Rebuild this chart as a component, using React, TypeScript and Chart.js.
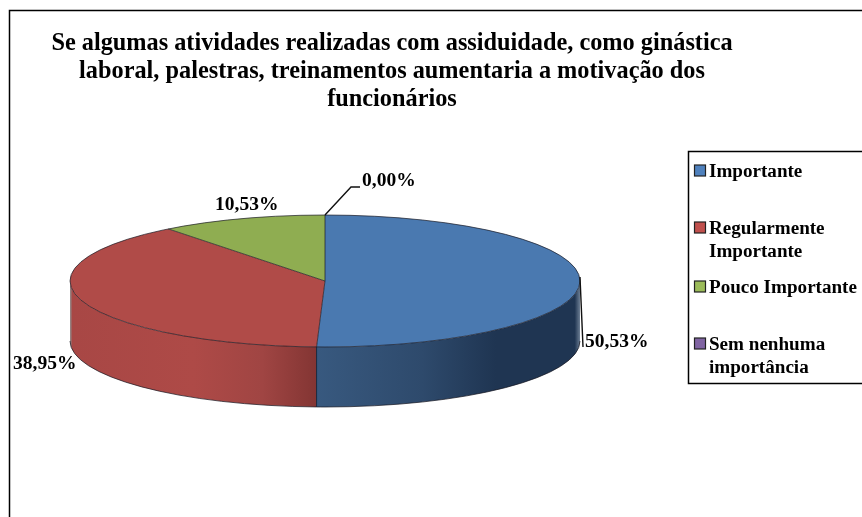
import React, { useEffect, useRef } from "react";
import { Chart, registerables } from "chart.js";

Chart.register(...registerables);

const categories = ["Importante", "Regularmente Importante", "Pouco Importante", "Sem nenhuma importância"];
const values = [50.53, 38.95, 10.53, 0.0];
const valueLabels = ["50,53%", "38,95%", "10,53%", "0,00%"];
const topColors = ["#4a79b0", "#b04b48", "#8fad51", "#7d60a0"];
const swatchColors = ["#4f81bd", "#c0504d", "#9bbb59", "#8064a2"];
const titleLines = [
  "Se algumas atividades realizadas com assiduidade, como ginástica",
  "laboral, palestras, treinamentos aumentaria a motivação dos",
  "funcionários",
];
const legendLines = [["Importante"], ["Regularmente", "Importante"], ["Pouco Importante"], ["Sem nenhuma", "importância"]];

const SERIF = '"Liberation Serif", serif';
const TILT = 66 / 255;
const CY = 281;
const DEPTH = 60;

const sideStops: Record<number, [number, string][]> = {
  0: [[0, "#38597f"], [0.4, "#2e4a6c"], [0.68, "#1f3552"], [0.98, "#1f3552"], [1, "#6d7f95"]],
  1: [[0, "#8f8f8f"], [0.01, "#a84745"], [0.5, "#ae4a47"], [0.78, "#a04543"], [1, "#833533"]],
  2: [[0, "#6e8a3d"], [1, "#6e8a3d"]],
  3: [[0, "#5f4880"], [1, "#5f4880"]],
};

const pie3d = {
  id: "pie3d",
  beforeDatasetsDraw(chart: any) {
    const { ctx } = chart;
    const arcs = chart.getDatasetMeta(0).data;
    const base = arcs[0];
    const cx = base.x;
    const rx = base.outerRadius;
    const ry = rx * TILT;
    arcs.forEach((arc: any, i: number) => {
      const a = Math.max(arc.startAngle, 0);
      const b = Math.min(arc.endAngle, Math.PI);
      if (b <= a) return;
      const x0 = cx + rx * Math.cos(b);
      const x1 = cx + rx * Math.cos(a);
      const g = ctx.createLinearGradient(x0, 0, x1, 0);
      sideStops[i].forEach(([o, c]) => g.addColorStop(o, c));
      ctx.beginPath();
      ctx.ellipse(cx, CY, rx, ry, 0, a, b);
      ctx.ellipse(cx, CY + DEPTH, rx, ry, 0, b, a, true);
      ctx.closePath();
      ctx.fillStyle = g;
      ctx.fill();
      ctx.strokeStyle = "rgba(20,20,30,0.7)";
      ctx.lineWidth = 1;
      ctx.beginPath();
      ctx.ellipse(cx, CY + DEPTH, rx, ry, 0, a, b);
      ctx.stroke();
    });
    const split = arcs[0].endAngle;
    ctx.strokeStyle = "#16263c";
    ctx.lineWidth = 1;
    ctx.beginPath();
    ctx.moveTo(cx + rx * Math.cos(split), CY + ry * Math.sin(split));
    ctx.lineTo(cx + rx * Math.cos(split), CY + DEPTH + ry * Math.sin(split));
    ctx.stroke();
    ctx.save();
    ctx.translate(0, CY);
    ctx.scale(1, TILT);
    ctx.translate(0, -base.y);
  },
  afterDatasetsDraw(chart: any) {
    const { ctx } = chart;
    ctx.restore();
    const arcs = chart.getDatasetMeta(0).data;
    const cx = arcs[0].x;
    const rx = arcs[0].outerRadius;
    const ry = rx * TILT;
    ctx.strokeStyle = "rgba(25,25,35,0.7)";
    ctx.lineWidth = 1;
    ctx.beginPath();
    ctx.ellipse(cx, CY, rx, ry, 0, 0, Math.PI * 2);
    ctx.stroke();
    arcs.slice(0, 3).forEach((arc: any) => {
      ctx.beginPath();
      ctx.moveTo(cx, CY);
      ctx.lineTo(cx + rx * Math.cos(arc.startAngle), CY + ry * Math.sin(arc.startAngle));
      ctx.stroke();
    });
  },
  afterDraw(chart: any) {
    const { ctx, width, height } = chart;
    ctx.save();
    // outer frame
    ctx.strokeStyle = "#000";
    ctx.lineWidth = 1.5;
    ctx.beginPath();
    ctx.moveTo(9.5, height + 2);
    ctx.lineTo(9.5, 10.5);
    ctx.lineTo(width + 2, 10.5);
    ctx.stroke();

    ctx.fillStyle = "#000";
    ctx.textBaseline = "alphabetic";
    ctx.textAlign = "center";
    ctx.font = `bold 24.3px ${SERIF}`;
    titleLines.forEach((l, i) => ctx.fillText(l, 392, 50 + i * 28));

    // value labels
    ctx.font = `bold 19.5px ${SERIF}`;
    ctx.textAlign = "left";
    ctx.fillText(valueLabels[0], 585, 347);
    ctx.fillText(valueLabels[1], 13, 369);
    ctx.fillText(valueLabels[2], 215, 210);
    ctx.fillText(valueLabels[3], 362, 186);

    // leader lines
    ctx.lineWidth = 1.4;
    ctx.strokeStyle = "#111";
    ctx.beginPath();
    ctx.moveTo(325, 215);
    ctx.lineTo(351, 187);
    ctx.lineTo(360, 187);
    ctx.moveTo(580, 277);
    ctx.lineTo(583, 347);
    ctx.stroke();

    // legend
    ctx.strokeStyle = "#000";
    ctx.lineWidth = 1.5;
    ctx.strokeRect(688.5, 151.5, width, 232);
    const legendY = [177, 234, 293, 350];
    ctx.font = `bold 19.1px ${SERIF}`;
    legendLines.forEach((lines, i) => {
      ctx.fillStyle = swatchColors[i];
      ctx.fillRect(694.5, legendY[i] - 12, 11, 11);
      ctx.strokeStyle = "#222";
      ctx.lineWidth = 1.2;
      ctx.strokeRect(694.5, legendY[i] - 12, 11, 11);
      ctx.fillStyle = "#000";
      lines.forEach((l, j) => ctx.fillText(l, 709, legendY[i] + j * 23));
    });
    ctx.restore();
  },
};

export default function App() {
  const ref = useRef<HTMLCanvasElement>(null);
  useEffect(() => {
    const chart = new Chart(ref.current!, {
      type: "pie",
      data: {
        labels: categories,
        datasets: [{ data: values, backgroundColor: topColors, borderWidth: 0 }],
      },
      options: {
        animation: false,
        responsive: false,
        layout: { padding: { left: 70, right: 282, top: 3, bottom: 4 } },
        plugins: { legend: { display: false }, tooltip: { enabled: false }, title: { display: false } },
      },
      plugins: [pie3d],
    });
    return () => chart.destroy();
  }, []);
  return (
    <div style={{ position: "fixed", left: 0, top: 0, width: 862, height: 517, background: "#fff" }}>
      <canvas ref={ref} width={862} height={517} style={{ display: "block" }} />
    </div>
  );
}
